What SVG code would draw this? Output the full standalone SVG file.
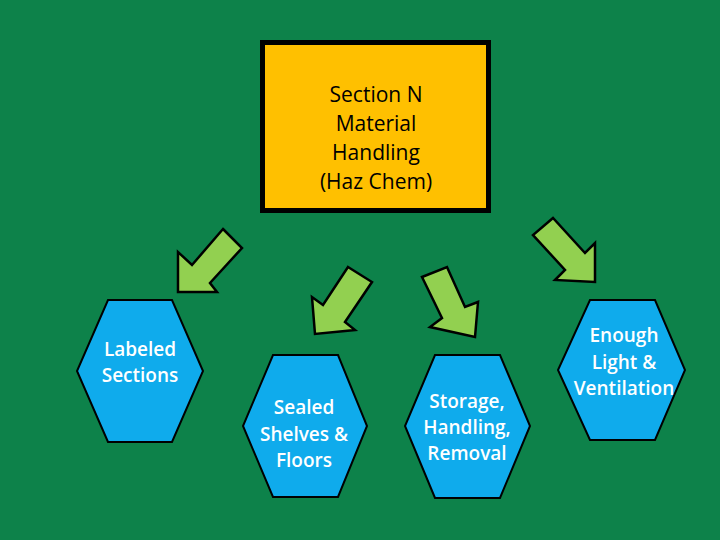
<svg xmlns="http://www.w3.org/2000/svg" width="720" height="540" viewBox="0 0 720 540">
<style>
.hex{fill:#0FABEC;stroke:#000;stroke-width:2}
.arr{fill:#92D050;stroke:#000;stroke-width:2.5;stroke-linejoin:miter}
.ht{font-family:"Open Sans","Noto Sans",sans-serif;font-size:19px;font-weight:600;fill:#fff;text-anchor:middle}
.tt{font-family:"Open Sans","Noto Sans",sans-serif;font-size:21px;font-weight:500;fill:#000;text-anchor:middle}
</style>
<rect width="720" height="540" fill="#0D824A"/>
<g id="top">
<rect x="262.5" y="42.5" width="226" height="168" fill="#FFC000" stroke="#000" stroke-width="5"/>
<text class="tt" x="376" y="102">Section N</text>
<text class="tt" x="376" y="131">Material</text>
<text class="tt" x="376" y="160">Handling</text>
<text class="tt" x="376" y="189">(Haz Chem)</text>
</g>
<g id="connectors">
<polygon class="arr" points="223,229 242,248 210,283 217,292 178,292 178,252 192,265"/>
<polygon class="arr" points="348,267 372,282 345,322 355,330 315,334 312,297 323,305"/>
<polygon class="arr" points="422,277 447,267 465,307 478,302 475,337 430,327 442,318"/>
<polygon class="arr" points="553,218 533,235 565,270 555,280 595,282 595,243 585,253"/>
</g>
<g id="labeled">
<polygon class="hex" points="108,300 172,300 203,371 172,442 108,442 77,371"/>
<text class="ht" x="140" y="356">Labeled</text>
<text class="ht" x="140" y="382">Sections</text>
</g>
<g id="sealed">
<polygon class="hex" points="273,355 338,355 367,426 338,497 273,497 243,426"/>
<text class="ht" x="304" y="414">Sealed</text>
<text class="ht" x="304" y="441">Shelves &amp;</text>
<text class="ht" x="304" y="467">Floors</text>
</g>
<g id="storage">
<polygon class="hex" points="435,355 500,355 530,426 500,498 435,498 405,426"/>
<text class="ht" x="467" y="408">Storage,</text>
<text class="ht" x="467" y="434">Handling,</text>
<text class="ht" x="467" y="460">Removal</text>
</g>
<g id="enough">
<polygon class="hex" points="590,300 655,300 685,370 655,440 590,440 558,370"/>
<text class="ht" x="624" y="342">Enough</text>
<text class="ht" x="624" y="369">Light &amp;</text>
<text class="ht" x="624" y="395">Ventilation</text>
</g>
</svg>
